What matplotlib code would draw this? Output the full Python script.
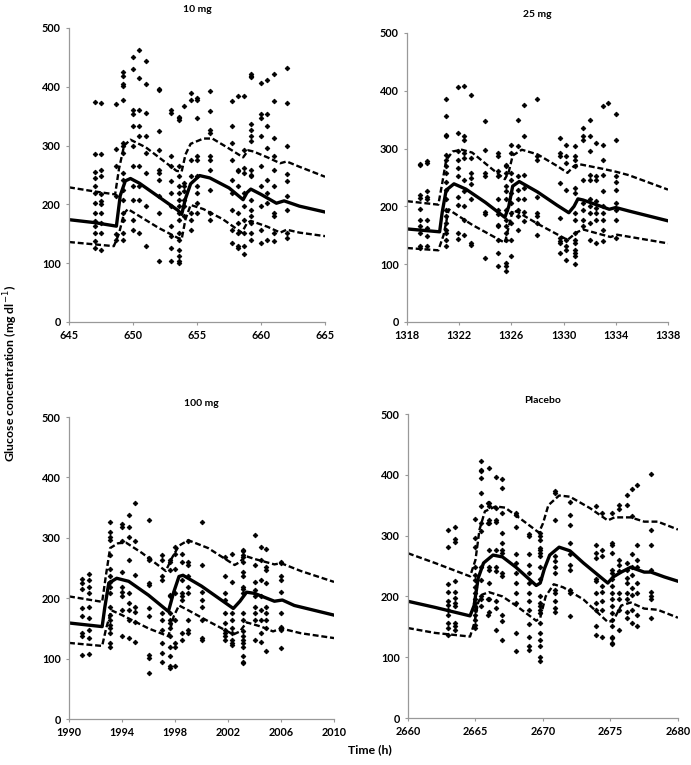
import matplotlib
matplotlib.use("Agg")
import matplotlib.pyplot as plt

plt.rcParams['font.family'] = ['Lato', 'DejaVu Sans']

# ---- 10 mg ----
t10_line = [645, 647, 648.7, 649.0, 649.4, 649.8, 650.5, 652, 653.5, 653.8, 654.1, 654.5, 655.2, 656,
            657.5, 658.6, 658.9, 659.2, 660, 661.2, 661.8, 663, 665]
med10 = [174, 169, 163, 215, 240, 244, 236, 213, 190, 183, 210, 235, 249, 245,
         228, 208, 220, 226, 217, 202, 206, 197, 187]
t10_up = [645, 647, 648.6, 648.9, 649.3, 649.8, 651, 652.5, 653.4, 653.8, 654.1, 654.5, 655.5, 656.2,
          657.5, 658.6, 659.0, 659.4, 660.5, 661.5, 662, 663, 665]
up10 = [229, 222, 217, 260, 300, 310, 297, 272, 257, 256, 285, 303, 312, 312,
        295, 280, 292, 290, 280, 270, 273, 264, 247]
t10_lo = [645, 647, 648.5, 648.9, 649.3, 649.6, 650.5, 652, 653.5, 653.8, 654.1, 654.5, 655.5, 657,
          658.5, 658.9, 659.2, 660.5, 661.5, 662, 663, 665]
lo10 = [136, 132, 129, 150, 185, 192, 180, 160, 143, 141, 175, 199, 192, 175,
        152, 168, 172, 162, 152, 157, 152, 146]
obs_t10 = [647.0, 647.5, 648.7, 649.2, 650.0, 650.5, 651.0, 652.0, 653.0, 653.6, 654.0, 654.5, 655.0,
           656.0, 657.7, 658.2, 658.7, 659.2, 660.0, 660.5, 661.0, 662.0]
obs_g10 = [
    [374, 286, 255, 245, 231, 219, 202, 185, 171, 163, 151, 137, 126],
    [372, 285, 259, 249, 218, 205, 200, 185, 168, 151, 123],
    [370, 294, 265, 215, 150, 140],
    [378, 402, 404, 418, 426, 304, 299, 287, 253, 242, 225, 208, 185, 174, 151, 140],
    [451, 430, 361, 353, 333, 299, 265, 231, 208, 174, 157],
    [463, 415, 361, 333, 316, 265, 231, 208, 151],
    [444, 405, 355, 316, 287, 253, 197, 129],
    [396, 394, 324, 293, 259, 253, 242, 214, 185, 103],
    [361, 355, 282, 265, 239, 219, 197, 163, 146, 126, 103],
    [349, 347, 344, 265, 248, 231, 219, 208, 197, 185, 174, 151, 140, 123, 112, 103, 100],
    [367, 236, 231, 222, 208, 197, 180],
    [389, 378, 276, 248, 185, 174, 157],
    [381, 378, 347, 282, 276, 248, 231, 219, 202, 185],
    [393, 358, 327, 321, 282, 276, 259, 225, 185, 174],
    [375, 333, 304, 276, 242, 219, 191, 157, 134],
    [384, 259, 256, 231, 185, 168, 151, 129, 126],
    [384, 293, 262, 253, 219, 197, 174, 151, 129, 115],
    [421, 419, 417, 336, 327, 316, 307, 259, 250, 248, 208, 191, 180, 168, 151, 140],
    [406, 353, 347, 316, 265, 231, 197, 157, 134],
    [412, 353, 333, 296, 242, 219, 202, 140],
    [422, 375, 313, 282, 259, 231, 185, 180, 151, 137],
    [432, 372, 300, 251, 239, 214, 191, 151, 143],
]

# ---- 25 mg ----
t25_line = [1318, 1319.5, 1320.5, 1320.7, 1321.0, 1321.6, 1322.5, 1324, 1325.5, 1325.8, 1326.1, 1326.6,
            1328, 1329.5, 1330.4, 1330.8, 1331.1, 1331.5, 1333.5, 1334, 1335, 1338]
med25 = [161, 158, 156, 190, 228, 239, 230, 207, 181, 200, 235, 243,
         225, 202, 189, 200, 213, 211, 195, 198, 192, 175]
t25_up = [1318, 1320.4, 1320.7, 1321.0, 1321.5, 1322.2, 1323, 1324.5, 1325.5, 1325.8, 1326.1, 1326.8,
          1328, 1329.5, 1330.3, 1330.8, 1331.2, 1333, 1334, 1335, 1338]
up25 = [209, 203, 240, 280, 295, 298, 293, 265, 247, 260, 288, 298,
        290, 270, 258, 270, 273, 265, 260, 254, 229]
t25_lo = [1318, 1320.4, 1320.8, 1321.2, 1321.5, 1323, 1325.5, 1325.8, 1326.1, 1326.5, 1328, 1330.3,
          1331.0, 1331.5, 1333.6, 1334.1, 1338]
lo25 = [128, 124, 150, 195, 190, 168, 137, 165, 193, 190, 170, 142,
        155, 160, 147, 151, 136]
obs_t25 = [1319.0, 1319.5, 1321.0, 1321.9, 1322.4, 1322.9, 1324.0, 1325.0, 1325.6, 1326.0, 1326.5,
           1327.0, 1328.0, 1329.7, 1330.2, 1330.9, 1331.5, 1332.0, 1332.5, 1333.0, 1333.4, 1334.0]
obs_g25 = [
    [271, 273, 220, 215, 195, 177, 166, 154, 131, 128],
    [278, 275, 226, 217, 212, 177, 163, 148, 131],
    [356, 386, 324, 321, 289, 281, 269, 258, 243, 229, 212, 194, 183, 171, 160, 154, 142, 131],
    [406, 327, 295, 281, 266, 252, 217, 203, 154, 144],
    [408, 321, 315, 292, 284, 246, 226, 200, 177, 151],
    [392, 284, 258, 249, 238, 212, 137, 134],
    [347, 298, 258, 252, 191, 186, 111],
    [292, 287, 261, 252, 212, 194, 186, 168, 166, 142, 119, 96],
    [272, 269, 258, 235, 226, 212, 194, 177, 166, 154, 142, 102, 96, 89],
    [307, 292, 258, 246, 223, 206, 189, 171, 142, 114],
    [350, 304, 252, 229, 212, 194, 183, 160],
    [376, 321, 255, 232, 212, 191, 174],
    [386, 287, 281, 217, 189, 183, 171, 151],
    [318, 292, 287, 240, 180, 145, 140, 137, 119],
    [307, 287, 275, 229, 142, 131, 125, 108],
    [304, 287, 281, 269, 232, 223, 189, 177, 154, 142, 137, 125, 119, 114, 100],
    [336, 321, 315, 246, 206, 194, 177, 166],
    [350, 321, 295, 255, 246, 212, 200, 189, 171, 142],
    [310, 252, 246, 209, 197, 189, 177, 137],
    [373, 307, 281, 255, 226, 200, 189, 177, 160, 140],
    [379],
    [359, 315, 252, 243, 229, 206, 194, 177, 145],
]

# ---- 100 mg ----
t100_line = [1990, 1992.5, 1992.7, 1993.0, 1993.6, 1994.5, 1996, 1997.5, 1997.9, 1998.3, 1998.6, 2000,
             2002.4, 2002.9, 2003.4, 2004, 2005.5, 2006.1, 2007, 2010]
med100 = [159, 153, 185, 225, 233, 228, 205, 178, 210, 236, 238, 220,
          183, 195, 210, 208, 195, 197, 188, 172]
t100_up = [1990, 1992.5, 1992.8, 1993.1, 1993.7, 1994.3, 1995.5, 1997.3, 1997.8, 1998.3, 1999, 2000.5,
           2002.5, 2002.9, 2003.3, 2004, 2005.5, 2006, 2007.5, 2010]
up100 = [203, 194, 240, 283, 291, 292, 275, 245, 268, 287, 296, 283,
         255, 260, 270, 265, 256, 258, 245, 227]
t100_lo = [1990, 1992.5, 1992.8, 1993.2, 1994, 1996, 1997.5, 1997.9, 1998.3, 1999, 2000.5, 2002.4,
           2002.9, 2003.4, 2004.5, 2005.4, 2006, 2007.5, 2010]
lo100 = [126, 121, 150, 180, 172, 150, 137, 170, 188, 180, 162, 140,
         145, 160, 153, 145, 150, 142, 134]
obs_t100 = [1991.0, 1991.5, 1993.1, 1994.0, 1994.5, 1995.0, 1996.0, 1997.0, 1997.6, 1998.0, 1998.5,
            1999.0, 2000.0, 2001.8, 2002.3, 2003.1, 2004.0, 2004.5, 2004.9, 2006.0]
obs_g100 = [
    [231, 225, 216, 183, 170, 142, 137, 106],
    [240, 230, 219, 208, 186, 167, 148, 134, 108],
    [327, 310, 302, 296, 271, 249, 236, 227, 219, 208, 186, 172, 164, 156, 150, 142, 126, 120],
    [323, 318, 294, 244, 219, 211, 203, 180, 137],
    [338, 318, 302, 263, 208, 192, 180, 164, 134],
    [357, 294, 238, 186, 178, 161, 128],
    [329, 266, 263, 225, 222, 183, 170, 106, 101, 76],
    [271, 263, 236, 230, 175, 164, 148, 126, 109, 95],
    [263, 260, 247, 205, 203, 175, 164, 159, 150, 137, 120, 104, 87, 84],
    [285, 274, 249, 208, 164, 126, 120, 87],
    [274, 260, 230, 208, 203, 197, 142, 131],
    [294, 260, 255, 236, 219, 208, 164, 148, 142],
    [327, 255, 211, 197, 186, 164, 134, 131],
    [269, 236, 208, 197, 175, 159, 148, 142, 137, 131],
    [274, 227, 175, 164, 150, 142, 131, 126, 123],
    [280, 278, 271, 269, 260, 244, 236, 219, 216, 208, 175, 164, 145, 137, 131, 126, 120, 104, 95, 93],
    [305, 255, 227, 214, 203, 186, 175, 164, 131],
    [285, 263, 230, 203, 180, 164, 142, 128],
    [282, 252, 247, 225, 186, 175, 164, 150, 112],
    [260, 258, 236, 230, 211, 175, 153, 148, 117],
]

# ---- Placebo ----
tpl_line = [2660, 2662, 2664.6, 2664.9, 2665.2, 2665.6, 2666.3, 2667, 2668, 2669.5, 2669.8, 2670.1,
            2670.5, 2671.2, 2672, 2673, 2674.8, 2675.2, 2675.8, 2676.5, 2677.5, 2678, 2679, 2680]
medpl = [192, 182, 168, 185, 230, 255, 268, 265, 248, 218, 222, 245,
         268, 281, 275, 255, 222, 232, 240, 248, 240, 240, 232, 225]
tpl_up = [2660, 2662, 2664.6, 2665.0, 2665.3, 2665.7, 2666.5, 2667.2, 2668.5, 2669.7, 2670.0, 2670.4,
          2671.2, 2672, 2673.5, 2674.8, 2675.3, 2676.5, 2677.5, 2678.5, 2680]
uppl = [271, 255, 233, 260, 310, 340, 348, 346, 325, 305, 320, 350,
        366, 364, 345, 325, 330, 330, 323, 323, 310]
tpl_lo = [2660, 2662, 2664.6, 2664.9, 2665.2, 2665.5, 2666, 2667, 2668, 2669.5, 2669.8, 2670.2,
          2670.8, 2671.5, 2673, 2674.8, 2675.2, 2675.8, 2676.5, 2677.5, 2678.5, 2680]
lopl = [148, 140, 134, 155, 190, 203, 207, 200, 185, 160, 165, 200,
        220, 215, 195, 158, 160, 185, 190, 180, 178, 165]
obs_tpl = [2663.0, 2663.5, 2665.0, 2665.4, 2665.9, 2666.0, 2666.5, 2667.0, 2668.0, 2669.0, 2669.8,
           2670.9, 2672.0, 2673.9, 2674.4, 2675.1, 2675.6, 2676.2, 2676.6, 2677.0, 2678.0]
obs_gpl = [
    [309, 281, 221, 208, 192, 186, 178, 170, 157, 148, 137],
    [314, 295, 289, 225, 208, 197, 189, 184, 156, 151, 145],
    [327, 296, 282, 249, 236, 227, 216, 205, 195, 189, 184, 178, 170, 162, 153, 148],
    [422, 408, 406, 395, 370, 348, 321, 307, 249, 227, 200, 195, 184],
    [354, 321, 195, 170],
    [412, 354, 348, 326, 321, 277, 249, 244, 222, 195, 175],
    [396, 345, 326, 323, 277, 249, 241, 192, 181, 145],
    [393, 378, 337, 304, 288, 277, 271, 238, 233, 170, 159, 129],
    [337, 334, 315, 269, 255, 238, 222, 206, 189, 140, 110],
    [302, 299, 269, 252, 238, 222, 206, 192, 178, 154, 134, 118, 112],
    [304, 299, 293, 280, 277, 271, 266, 249, 228, 200, 189, 184, 178, 173, 156, 140, 129, 118, 101, 93],
    [373, 370, 326, 266, 258, 249, 238, 211, 206, 192, 181, 175],
    [356, 334, 318, 288, 269, 252, 244, 211, 206, 167],
    [348, 285, 271, 263, 228, 225, 206, 189, 178, 151, 137],
    [337, 277, 266, 217, 208, 192, 178, 134],
    [337, 288, 285, 271, 244, 238, 228, 217, 206, 195, 184, 173, 162, 151, 134, 132, 123, 121],
    [351, 343, 260, 252, 241, 206, 195, 178, 145],
    [367, 351, 255, 244, 230, 222, 206, 195, 175, 164],
    [376, 332, 269, 249, 236, 214, 203, 178, 156],
    [384, 285, 260, 249, 222, 206, 170, 152],
    [401, 310, 285, 244, 208, 200, 195, 164],
]

panels = [
    ("10 mg", [0.0999, 0.5791, 0.3705, 0.3843], (645, 665), [645, 650, 655, 660, 665],
     t10_line, med10, t10_up, up10, t10_lo, lo10, obs_t10, obs_g10),
    ("25 mg", [0.5890, 0.5791, 0.3777, 0.3778], (1318, 1338), [1318, 1322, 1326, 1330, 1334, 1338],
     t25_line, med25, t25_up, up25, t25_lo, lo25, obs_t25, obs_g25),
    ("100 mg", [0.0999, 0.0601, 0.3835, 0.3948], (1990, 2010), [1990, 1994, 1998, 2002, 2006, 2010],
     t100_line, med100, t100_up, up100, t100_lo, lo100, obs_t100, obs_g100),
    ("Placebo", [0.5904, 0.0614, 0.3907, 0.3974], (2660, 2680), [2660, 2665, 2670, 2675, 2680],
     tpl_line, medpl, tpl_up, uppl, tpl_lo, lopl, obs_tpl, obs_gpl),
]

fig = plt.figure(figsize=(6.91, 7.65), dpi=100)

for title, pos, xlim, xticks, tl, med, tu, up, tlo, lo, ot, og in panels:
    ax = fig.add_axes(pos)
    xs = []
    ys = []
    for t, vals in zip(ot, og):
        for v in vals:
            xs.append(t)
            ys.append(v)
    # observed points
    ax.plot(xs, ys, linestyle='none', marker='D', markersize=2.4, markeredgewidth=0.6,
            color='black')
    # median and 90% interval
    ax.plot(tl, med, color='black', linewidth=2.4)
    ax.plot(tu, up, color='black', linewidth=1.7, linestyle=(0, (2.5, 1.2)))
    ax.plot(tlo, lo, color='black', linewidth=1.7, linestyle=(0, (2.5, 1.2)))
    ax.set_xlim(*xlim)
    ax.set_ylim(0, 500)
    ax.set_xticks(xticks)
    ax.set_yticks([0, 100, 200, 300, 400, 500])
    for s in ['top', 'right']:
        ax.spines[s].set_visible(False)
    for s in ['left', 'bottom']:
        ax.spines[s].set_color('#999999')
        ax.spines[s].set_linewidth(0.9)
    ax.tick_params(axis='both', colors='#999999', length=2.5, width=0.8,
                   labelsize=7.8, labelcolor='black')
    for lab in ax.get_xticklabels() + ax.get_yticklabels():
        lab.set_fontweight('bold')
    cx = pos[0] + pos[2] / 2
    fig.text(cx, pos[1] + pos[3] + 0.018 if title in ("10 mg", "25 mg") else pos[1] + pos[3] + 0.012,
             title, ha='center', va='bottom', fontsize=7.5, fontweight='bold')

fig.text(0.016, 0.512, 'Glucose concentration (mg dl$^{-1}$)', rotation=90,
         ha='center', va='center', fontsize=8.8, fontweight='bold')
fig.text(0.535, 0.02, 'Time (h)', ha='center', va='center', fontsize=8.8, fontweight='bold')

fig.savefig('out.png', dpi=100)
